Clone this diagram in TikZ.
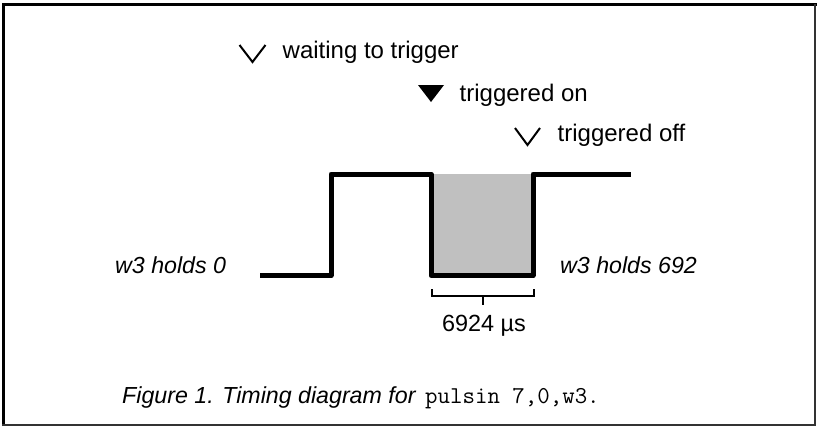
\documentclass[tikz,border=0pt]{standalone}
\usepackage{fontspec}
\setmainfont{Liberation Sans}
\usetikzlibrary{positioning}
\definecolor{pulsegray}{RGB}{192,192,192}
\definecolor{framegray}{RGB}{51,51,51}

\begin{document}
\begin{tikzpicture}[x=1pt, y=-1pt,
    lbl/.style={anchor=base west, inner sep=0pt, font=\fontsize{23.4}{27}\selectfont},
    state/.style={lbl, font=\fontsize{24}{28}\selectfont},
    note/.style={lbl, font=\fontsize{23.2}{27}\selectfont\itshape},
    code/.style={lbl, font=\fontsize{24.2}{27}\selectfont\ttfamily},
    wave/.style={line width=5pt, line join=round},
    openv/.style={line width=2pt, line join=miter},
    bracket/.style={line width=2pt}]

  \useasboundingbox (0,0) rectangle (817,426);

  % frame
  \draw[line width=3pt] (3.5,426) -- (3.5,4.3) -- (817,4.3);
  \draw[line width=2.5pt, framegray] (815,4.3) -- (815,425) -- (2,425);

  % state markers
  \draw[openv] (239.5,45) -- (252.5,62) -- (265.5,45);
  \node[state] (wait) at (282.5,58) {waiting to trigger};
  \fill (418,85) -- (444,85) -- (431,102) -- cycle;
  \node[state] (on) at (459.5,101) {triggered on};
  \draw[openv] (515,128) -- (527.5,145) -- (540,128);
  \node[state] (off) at (557.5,141) {triggered off};

  % pulse
  \coordinate (s) at (260,275.5);
  \coordinate (r1) at (331,275.5);
  \coordinate (f1) at (431,174);
  \coordinate (r2) at (533,275.5);
  \coordinate (e) at (631,174);
  \fill[pulsegray] (f1) rectangle (r2);
  \draw[wave] (s) -- (r1) -- (r1 |- f1) -- (f1) -- (f1 |- r2) -- (r2) -- (r2 |- e) -- (e);

  \node[note] (hold0) at (115,273) {w3 holds 0};
  \node[note] (hold1) at (560,273) {w3 holds 692};

  % width of pulse
  \draw[bracket] (432,289) -- (432,296) -- (534,296) -- (534,289);
  \draw[bracket] (483,296) -- (483,305);
  \node[lbl, anchor=base] (width) at (484,331) {6924 µs};

  % caption
  \node[note] (cap) at (122,403) {Figure 1. Timing diagram for};
  \node[code] (cmd) at (425,403) {pulsin 7,0,w3.};
\end{tikzpicture}
\end{document}
